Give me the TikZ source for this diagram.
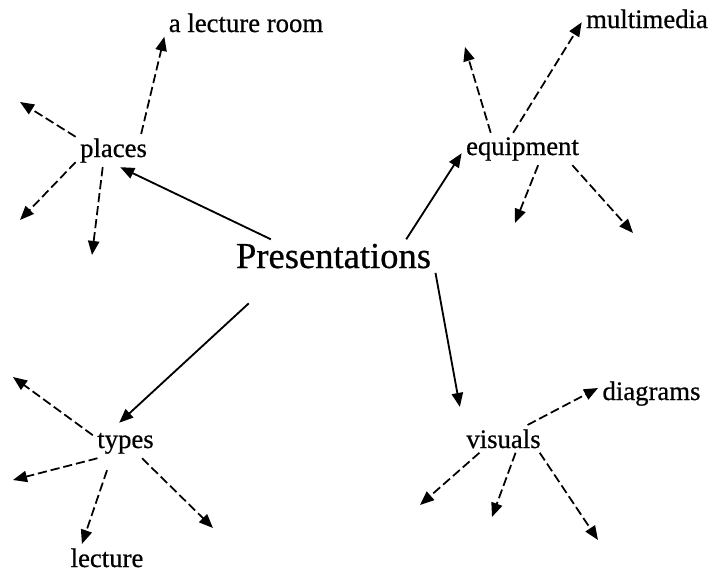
\documentclass[tikz,border=0pt]{standalone}
\usepackage{fontspec}
\setmainfont[UprightFeatures={FakeBold=0.6}]{Liberation Serif}
\usepackage{tikz}
\usetikzlibrary{arrows.meta, calc}
\tikzset{
  topic/.style={font=\fontsize{26}{30}\selectfont, inner sep=3pt, anchor=base},
  subtopic/.style={font=\fontsize{19}{22}\selectfont, inner sep=3pt, anchor=base},
  arrow/.style={-{Triangle[length=10pt, width=8pt]}, line width=1.3pt},
  dasharrow/.style={arrow, line width=1.25pt, dash pattern=on 6.5pt off 2.8pt}
}

\begin{document}
\begin{tikzpicture}[x=0.025cm, y=-0.025cm]
  \useasboundingbox (0,0) rectangle (713,573);

  % Centre topic
  \node[topic] (pres) at (333.5,268) {Presentations};

  % Sub topics
  \node[subtopic] (places) at (113.5,157) {places};
  \node[subtopic] (equip) at (522.5,155) {equipment};
  \node[subtopic] (visuals) at (503.5,448) {visuals};
  \node[subtopic] (types) at (125.5,448) {types};

  % Leaves
  \node[subtopic] (lroom) at (246,32) {a lecture room};
  \node[subtopic] (mmedia) at (647,28) {multimedia};
  \node[subtopic] (diagr) at (651.5,400) {diagrams};
  \node[subtopic] (lecture) at (107,567) {lecture};

  % Open ends
  \coordinate (pl-ul) at (20,102);
  \coordinate (pl-ll) at (20,220);
  \coordinate (pl-dn) at (92,255);
  \coordinate (eq-ul) at (465,47);
  \coordinate (eq-dn) at (515,223);
  \coordinate (eq-dr) at (633,233);
  \coordinate (vi-ll) at (420,505);
  \coordinate (vi-dn) at (492,517);
  \coordinate (vi-dr) at (598,540);
  \coordinate (ty-ul) at (13,377);
  \coordinate (ty-l) at (13,480);
  \coordinate (ty-dr) at (213,528);

  % places
  \draw[arrow] (pres.165) -- (places.292);
  \draw[dasharrow] (places.31) -- (lroom.south west);
  \draw[dasharrow] (places.160) -- (pl-ul);
  \draw[dasharrow] (places.197) -- (pl-ll);
  \draw[dasharrow] (places.237) -- (pl-dn);

  % equipment
  \draw[arrow] (pres.13) -- (equip.184);
  \draw[dasharrow] (equip.120) -- (mmedia.183);
  \draw[dasharrow] (equip.153) -- (eq-ul);
  \draw[dasharrow] (equip.314) -- (eq-dn);
  \draw[dasharrow] (equip.342) -- (eq-dr);

  % visuals
  \draw[arrow, shorten >=13pt] (pres.south east) -- (visuals.161);
  \draw[dasharrow] (visuals.30) -- (diagr.174);
  \draw[dasharrow] (visuals.210) -- (vi-ll);
  \draw[dasharrow] (visuals.311) -- (vi-dn);
  \draw[dasharrow] (visuals.339) -- (vi-dr);

  % types
  \draw[arrow, shorten <=32pt, shorten >=6pt] (pres.198) -- (types.130);
  \draw[dasharrow] (types.166) -- (ty-ul);
  \draw[dasharrow] (types.208) -- (ty-l);
  \draw[dasharrow, shorten <=9pt] (types.226) -- (lecture.151);
  \draw[dasharrow] (types.318) -- (ty-dr);
\end{tikzpicture}
\end{document}
